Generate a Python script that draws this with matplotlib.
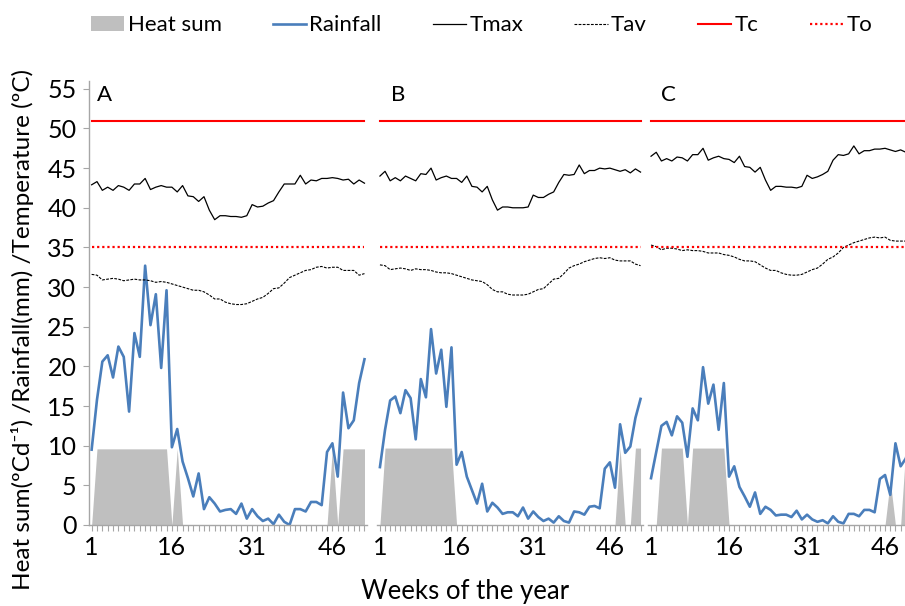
import matplotlib
matplotlib.use("Agg")
import matplotlib.pyplot as plt
from matplotlib.lines import Line2D
from matplotlib.patches import Patch

plt.rcParams['font.family'] = ['Lato', 'DejaVu Sans']

weeks = list(range(1, 53))
tick_weeks = [1, 16, 31, 46]
panel_labels = ["A", "B", "C"]
tc_value = 51
to_value = 35

# Heat sum (ºCd-1) per week
heat_a = [0] + [9.6] * 14 + [0, 9.6, 0] + [0] * 27 + [9.6, 0] + [9.6] * 5
heat_b = [0] + [9.7] * 14 + [0] + [0] * 31 + [9.7, 0, 0, 9.7, 9.7]
heat_c = [0, 0] + [9.7] * 5 + [0] + [9.7] * 7 + [0] + [0] * 30 + [5.6, 0, 0, 9.7, 9.7, 9.7]

# Rainfall (mm) per week
rain_a = [9.5, 15.8, 20.6, 21.4, 18.6, 22.5, 21.2, 14.3, 24.2, 21.2,
          32.7, 25.2, 29.1, 19.8, 29.6, 9.8, 12.1, 8.0, 5.9, 3.6,
          6.5, 2.0, 3.5, 2.7, 1.7, 1.9, 2.0, 1.4, 2.7, 0.8,
          2.0, 1.1, 0.5, 0.8, 0.1, 1.3, 0.4, 0.0, 2.0, 2.0,
          1.7, 2.9, 2.9, 2.5, 9.2, 10.3, 6.1, 16.7, 12.2, 13.2,
          17.9, 20.9]
rain_b = [7.3, 12.0, 15.7, 16.2, 14.1, 17.0, 16.0, 10.8, 18.4, 16.1,
          24.7, 19.1, 22.1, 14.9, 22.4, 7.6, 9.2, 6.1, 4.4, 2.7,
          5.2, 1.7, 2.8, 2.2, 1.4, 1.6, 1.6, 1.1, 2.2, 0.8,
          1.7, 1.0, 0.5, 0.8, 0.3, 1.1, 0.5, 0.3, 1.7, 1.6,
          1.3, 2.3, 2.4, 2.1, 7.1, 7.9, 4.7, 12.7, 9.1, 9.9,
          13.5, 15.9]
rain_c = [5.9, 9.2, 12.5, 13.0, 11.3, 13.7, 12.9, 8.6, 14.7, 13.2,
          19.9, 15.3, 17.7, 12.0, 17.9, 6.1, 7.4, 4.8, 3.6, 2.3,
          4.1, 1.4, 2.3, 1.9, 1.2, 1.3, 1.3, 1.0, 1.8, 0.7,
          1.3, 0.7, 0.4, 0.6, 0.2, 1.1, 0.4, 0.2, 1.4, 1.4,
          1.1, 1.9, 1.9, 1.6, 5.8, 6.3, 3.8, 10.3, 7.4, 8.4,
          11.0, 12.5]

# Maximum temperature (ºC)
tmax_a = [42.9, 43.3, 42.2, 42.6, 42.2, 42.8, 42.6, 42.2, 43.0, 43.0,
          43.7, 42.3, 42.6, 42.8, 42.6, 42.6, 42.0, 42.8, 41.5, 41.4,
          40.8, 41.4, 39.7, 38.5, 39.0, 39.0, 38.9, 38.9, 38.8, 39.0,
          40.4, 40.1, 40.2, 40.6, 40.9, 42.0, 43.0, 43.0, 43.0, 44.1,
          43.0, 43.5, 43.4, 43.7, 43.7, 43.8, 43.7, 43.5, 43.6, 43.0,
          43.5, 43.1]
tmax_b = [44.0, 44.6, 43.4, 43.8, 43.4, 44.0, 43.7, 43.4, 44.3, 44.2,
          45.0, 43.5, 43.8, 44.0, 43.7, 43.7, 43.2, 44.0, 42.7, 42.6,
          42.0, 42.7, 41.0, 39.7, 40.1, 40.1, 40.0, 40.0, 40.0, 40.1,
          41.6, 41.3, 41.3, 41.7, 42.0, 43.2, 44.2, 44.1, 44.2, 45.4,
          44.3, 44.7, 44.7, 45.0, 44.9, 45.0, 44.8, 44.6, 44.8, 44.4,
          44.9, 44.5]
tmax_c = [46.5, 47.0, 45.9, 46.2, 45.9, 46.4, 46.3, 45.9, 46.7, 46.7,
          47.5, 46.0, 46.3, 46.5, 46.2, 46.1, 45.7, 46.5, 45.2, 45.1,
          44.5, 45.1, 43.5, 42.2, 42.7, 42.7, 42.6, 42.6, 42.5, 42.7,
          44.1, 43.7, 43.9, 44.2, 44.6, 46.0, 46.7, 46.6, 46.8, 47.8,
          46.8, 47.2, 47.2, 47.4, 47.4, 47.5, 47.3, 47.1, 47.3, 47.0,
          47.4, 47.0]

# Average temperature (ºC)
tav_a = [31.6, 31.5, 30.9, 31.0, 31.1, 31.0, 30.8, 30.9, 31.0, 30.9,
         30.9, 30.8, 30.6, 30.7, 30.6, 30.4, 30.2, 30.0, 29.8, 29.6,
         29.6, 29.4, 29.0, 28.5, 28.5, 28.1, 27.9, 27.8, 27.8, 27.9,
         28.2, 28.5, 28.7, 29.2, 29.8, 29.9, 30.5, 31.2, 31.5, 31.8,
         32.1, 32.2, 32.5, 32.6, 32.4, 32.5, 32.5, 32.1, 32.1, 32.1,
         31.5, 31.7]
tav_b = [32.8, 32.7, 32.2, 32.3, 32.4, 32.3, 32.1, 32.3, 32.2, 32.2,
         32.1, 31.9, 31.8, 31.8, 31.7, 31.5, 31.3, 31.1, 30.9, 30.8,
         30.7, 30.3, 29.7, 29.4, 29.4, 29.1, 29.0, 29.0, 29.0, 29.1,
         29.4, 29.7, 29.8, 30.4, 31.0, 31.1, 31.7, 32.4, 32.7, 32.9,
         33.2, 33.4, 33.6, 33.7, 33.6, 33.7, 33.4, 33.3, 33.3, 33.3,
         32.9, 32.7]
tav_c = [35.3, 35.1, 34.7, 34.9, 34.9, 34.8, 34.6, 34.7, 34.6, 34.6,
         34.5, 34.3, 34.3, 34.3, 34.1, 34.0, 33.8, 33.5, 33.3, 33.3,
         33.2, 32.8, 32.4, 32.1, 32.1, 31.8, 31.6, 31.5, 31.5, 31.6,
         31.9, 32.2, 32.4, 32.9, 33.5, 33.8, 34.3, 35.0, 35.3, 35.6,
         35.8, 36.0, 36.2, 36.3, 36.2, 36.3, 35.9, 35.8, 35.8, 35.8,
         35.6, 35.8]

panels = [
    (heat_a, rain_a, tmax_a, tav_a),
    (heat_b, rain_b, tmax_b, tav_b),
    (heat_c, rain_c, tmax_c, tav_c),
]

heat_color = "#bfbfbf"
rain_color = "#4a7ebb"
axis_grey = "#a6a6a6"

fig = plt.figure(figsize=(9.05, 6.06), dpi=100)

# panel boxes in figure fraction (left, bottom, width, height)
boxes = [
    (0.0983, 0.1337, 0.3074, 0.7328),
    (0.4170, 0.1337, 0.2936, 0.7328),
    (0.7165, 0.1337, 0.2988, 0.7328),
]
letter_x = [0.03, 0.05, 0.045]

for i, (heat, rain, tmax, tav) in enumerate(panels):
    ax = fig.add_axes(boxes[i])
    ax.fill_between(weeks, heat, 0, color=heat_color, lw=0)
    ax.plot(weeks, rain, color=rain_color, lw=1.9)
    ax.plot(weeks, tmax, color="black", lw=0.9)
    ax.plot(weeks, tav, color="black", lw=0.8, linestyle=(0, (2.5, 1.2)))
    ax.plot(weeks, [tc_value] * len(weeks), color="#ff0000", lw=1.5)
    ax.plot(weeks, [to_value] * len(weeks), color="#ff0000", lw=1.6,
            linestyle=(0, (1, 1.3)))

    ax.set_xlim(0.5, 52.5)
    ax.set_ylim(0, 56)
    ax.set_xticks(tick_weeks)
    ax.set_xticks(weeks, minor=True)
    ax.tick_params(axis="x", which="both", length=4, width=0.8,
                   color=axis_grey, labelsize=18, pad=4)
    for s in ["top", "right"]:
        ax.spines[s].set_visible(False)
    ax.spines["bottom"].set_color(axis_grey)
    ax.spines["bottom"].set_linewidth(1.0)
    if i == 0:
        ax.spines["left"].set_color(axis_grey)
        ax.spines["left"].set_linewidth(1.0)
        ax.set_yticks(range(0, 56, 5))
        ax.tick_params(axis="y", length=4, width=0.8, color=axis_grey,
                       labelsize=18, pad=5)
        ax.set_ylabel("Heat sum(ºCd⁻¹) /Rainfall(mm) /Temperature (ºC)",
                      fontsize=17.5, va="center")
        ax.yaxis.set_label_coords(-0.24, 0.44)
    else:
        ax.spines["left"].set_visible(False)
        ax.set_yticks([])
    ax.text(letter_x[i], 0.99, panel_labels[i], transform=ax.transAxes,
            fontsize=16, va="top", ha="left")

fig.text(0.514, 0.004, "Weeks of the year", fontsize=18.5, ha="center",
         va="bottom")

handles = [
    Patch(facecolor=heat_color, edgecolor="none"),
    Line2D([], [], color=rain_color, lw=1.9),
    Line2D([], [], color="black", lw=0.9),
    Line2D([], [], color="black", lw=0.8, linestyle=(0, (2.5, 1.2))),
    Line2D([], [], color="#ff0000", lw=1.5),
    Line2D([], [], color="#ff0000", lw=1.6, linestyle=(0, (1, 1.3))),
]
names = ["Heat sum", "Rainfall", "Tmax", "Tav", "Tc", "To"]
fig.legend(handles, names, loc="center", bbox_to_anchor=(0.532, 0.958),
           ncol=6, frameon=False, fontsize=16, handlelength=1.5,
           handletextpad=0.15, columnspacing=2.3)

fig.savefig("out.png", dpi=100)
